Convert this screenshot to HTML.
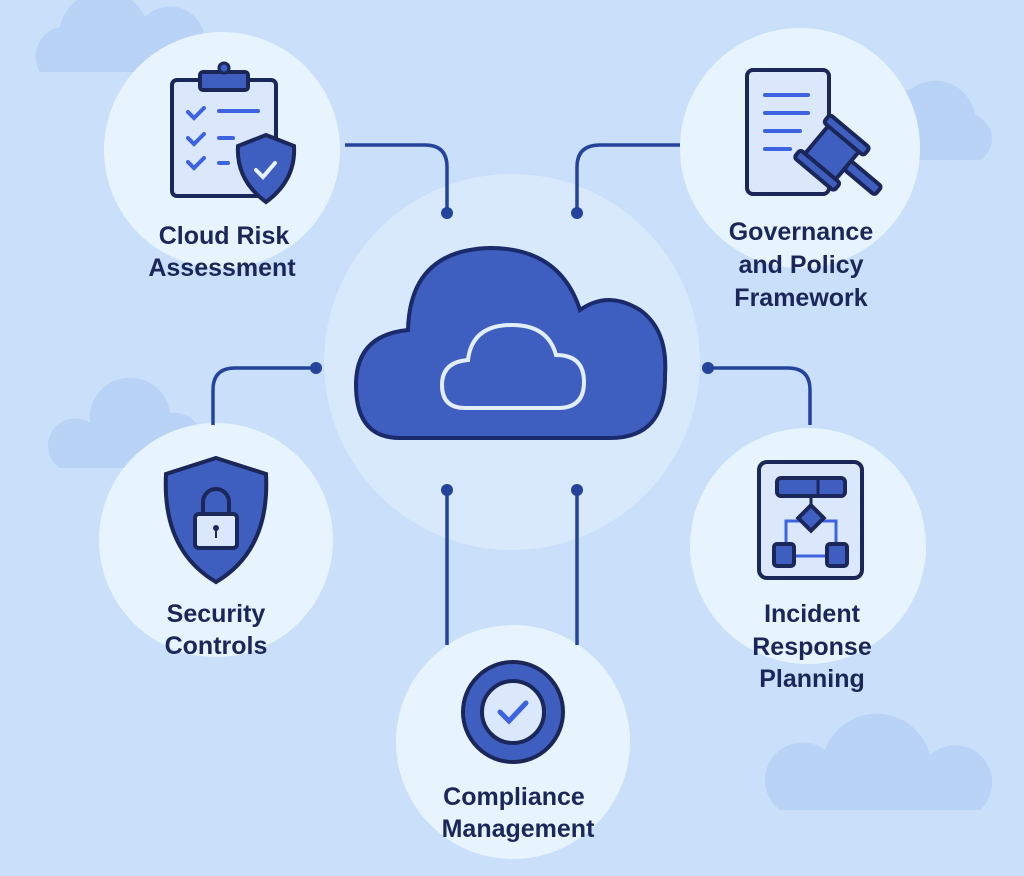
<!DOCTYPE html>
<html><head><meta charset="utf-8"><style>
html,body{margin:0;padding:0;background:#c8dffa;}
svg{display:block}
text{font-family:"Liberation Sans",sans-serif;font-weight:bold;font-size:25px;fill:#1b2659;text-anchor:middle}
</style></head><body>
<svg width="1024" height="876" viewBox="0 0 1024 876">
<rect width="1024" height="876" fill="#c9dffa"/>
<!-- bg clouds -->
<g fill="#b9d3f7">
<path d="M40 72 a30 30 0 0 1 20-45 a45 45 0 0 1 85-10 a35 35 0 0 1 60 25 a25 25 0 0 1 -10 30z"/>
<path d="M900 160 a30 30 0 0 1 10-70 a40 40 0 0 1 65 25 a25 25 0 0 1 5 45z"/>
<path d="M60 468 a25 25 0 0 1 30-45 a40 40 0 0 1 80-10 a30 30 0 0 1 20 55z"/>
<path d="M780 810 a35 35 0 0 1 45-60 a55 55 0 0 1 105 5 a35 35 0 0 1 50 55z"/>
</g>
<!-- circles -->
<circle cx="512" cy="362" r="188" fill="#d9e9fc"/>
<g fill="#e7f4fd">
<circle cx="222" cy="150" r="118"/>
<circle cx="800" cy="148" r="120"/>
<circle cx="216" cy="540" r="117"/>
<circle cx="808" cy="546" r="118"/>
<circle cx="513" cy="742" r="117"/>
</g>
<!-- connectors -->
<g stroke="#24439b" stroke-width="3.5" fill="none">
<path d="M345 145 H425 Q447 145 447 167 V213"/>
<path d="M680 145 H600 Q577 145 577 167 V213"/>
<path d="M316 368 H235 Q213 368 213 390 V425"/>
<path d="M708 368 H788 Q810 368 810 390 V425"/>
<path d="M447 490 V645"/>
<path d="M577 490 V645"/>
</g>
<g fill="#24439b">
<circle cx="447" cy="213" r="6"/><circle cx="577" cy="213" r="6"/>
<circle cx="316" cy="368" r="6"/><circle cx="708" cy="368" r="6"/>
<circle cx="447" cy="490" r="6"/><circle cx="577" cy="490" r="6"/>
</g>
<!-- central cloud -->
<path d="M400 438 Q356 438 356 385 Q356 335 408 330 Q410 250 490 248 Q560 248 580 310 Q608 290 640 310 Q668 330 665 375 Q666 438 610 438 Z" fill="#3f5fc0" stroke="#1a2a6b" stroke-width="4"/>
<path d="M465 408 Q442 408 442 385 Q442 362 468 360 Q472 325 512 325 Q548 325 556 355 Q584 355 584 382 Q584 408 558 408 Z" fill="none" stroke="#e3eefc" stroke-width="4"/>
<!-- clipboard icon -->
<rect x="172" y="80" width="104" height="116" rx="5" fill="#dbe8fb" stroke="#1b2659" stroke-width="4"/>
<rect x="200" y="72" width="48" height="18" rx="3" fill="#3f5fc0" stroke="#1b2659" stroke-width="4"/>
<circle cx="224" cy="68" r="5" fill="#3f5fc0" stroke="#1b2659" stroke-width="3"/>
<g stroke="#3d63e0" stroke-width="4" fill="none" stroke-linecap="round">
<path d="M188 112 l6 6 l10-10"/><path d="M188 138 l6 6 l10-10"/><path d="M188 162 l6 6 l10-10"/>
<path d="M219 111 H258"/><path d="M219 138 H233"/><path d="M219 163 H228"/>
</g>
<path d="M266 135 L294 146 Q296 180 266 202 Q236 180 238 146 Z" fill="#3f5fc0" stroke="#1b2659" stroke-width="4"/>
<path d="M256 170 l7 7 l12-14" stroke="#e7f4fd" stroke-width="4" fill="none" stroke-linecap="round"/>
<!-- document gavel icon -->
<rect x="747" y="70" width="82" height="124" rx="6" fill="#dbe8fb" stroke="#1b2659" stroke-width="4"/>
<g stroke="#3d63e0" stroke-width="4" stroke-linecap="round"><path d="M765 95 H808"/><path d="M765 113 H808"/><path d="M765 131 H800"/><path d="M765 149 H790"/></g>
<g transform="rotate(40 830 155)">
<rect x="810" y="130" width="40" height="44" rx="3" fill="#3f5fc0" stroke="#1b2659" stroke-width="4"/>
<rect x="804" y="124" width="52" height="10" rx="3" fill="#3f5fc0" stroke="#1b2659" stroke-width="4"/>
<rect x="804" y="170" width="52" height="10" rx="3" fill="#3f5fc0" stroke="#1b2659" stroke-width="4"/>
<rect x="850" y="146" width="40" height="11" rx="3" fill="#3f5fc0" stroke="#1b2659" stroke-width="4"/>
</g>
<!-- shield lock -->
<path d="M216 458 L266 474 Q270 550 216 582 Q162 550 166 474 Z" fill="#3f5fc0" stroke="#1b2659" stroke-width="4"/>
<path d="M203 516 V502 a13 13 0 0 1 26 0 V516" fill="none" stroke="#1b2659" stroke-width="4"/>
<rect x="195" y="514" width="42" height="34" rx="4" fill="#dbe8fb" stroke="#1b2659" stroke-width="4"/>
<circle cx="216" cy="528" r="3" fill="#1b2659"/><path d="M216 530 V538" stroke="#1b2659" stroke-width="2"/>
<!-- incident flow icon -->
<rect x="759" y="462" width="103" height="116" rx="8" fill="#dbe8fb" stroke="#1b2659" stroke-width="4"/>
<rect x="777" y="478" width="68" height="18" rx="4" fill="#3f5fc0" stroke="#1b2659" stroke-width="4"/>
<path d="M818 478 V496 M811 496 V508" stroke="#1b2659" stroke-width="3"/>
<path d="M786 548 V521 H836 V548 M796 556 H826" stroke="#3d63e0" stroke-width="3" fill="none"/>
<rect x="802" y="509" width="18" height="18" fill="#3f5fc0" stroke="#1b2659" stroke-width="4" transform="rotate(45 811 518)"/>
<rect x="774" y="544" width="20" height="22" rx="3" fill="#3f5fc0" stroke="#1b2659" stroke-width="4"/>
<rect x="827" y="544" width="20" height="22" rx="3" fill="#3f5fc0" stroke="#1b2659" stroke-width="4"/>
<!-- compliance -->
<circle cx="513" cy="712" r="50" fill="#3f5fc0" stroke="#1b2659" stroke-width="4"/>
<circle cx="513" cy="712" r="31" fill="#dbe8fb" stroke="#1b2659" stroke-width="4"/>
<path d="M500 712 l9 9 l17-18" stroke="#3d63e0" stroke-width="5" fill="none" stroke-linecap="round"/>
<!-- labels -->
<text x="224" y="244">Cloud Risk</text><text x="222" y="276">Assessment</text>
<text x="801" y="240">Governance</text><text x="801" y="273">and Policy</text><text x="801" y="306">Framework</text>
<text x="216" y="622">Security</text><text x="216" y="654">Controls</text>
<text x="812" y="622">Incident</text><text x="812" y="655">Response</text><text x="812" y="687">Planning</text>
<text x="514" y="805">Compliance</text><text x="518" y="837">Management</text>
</svg>
</body></html>
